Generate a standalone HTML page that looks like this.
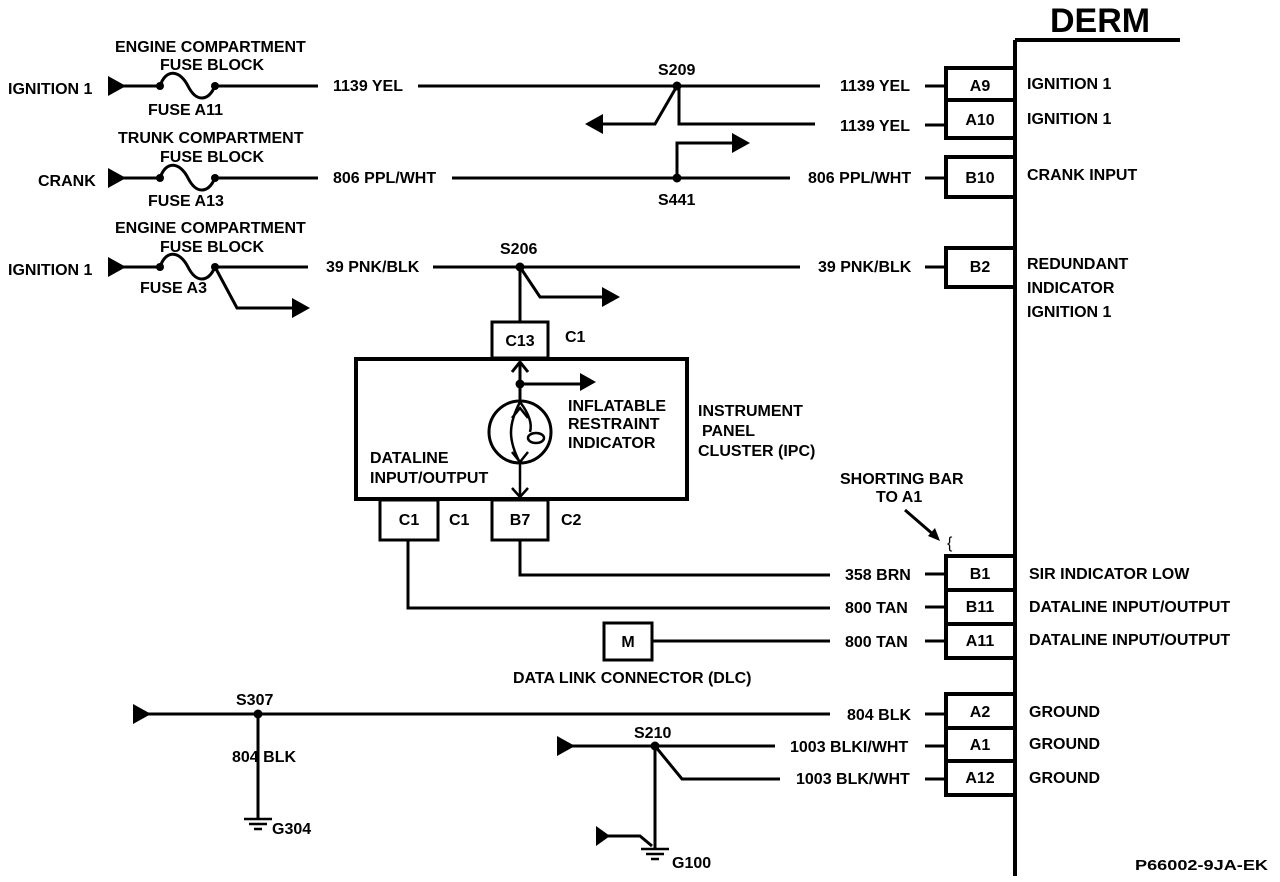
<!DOCTYPE html>
<html><head><meta charset="utf-8"><style>
html,body{margin:0;padding:0;background:#fff;}
svg{display:block}
text{font-family:"Liberation Sans",sans-serif;font-weight:bold;font-size:16px;fill:#000}
</style></head><body>
<svg width="1280" height="882" viewBox="0 0 1280 882" xmlns="http://www.w3.org/2000/svg">
<g stroke="#000" stroke-width="3" fill="none" stroke-linejoin="miter">
<path d="M1015 40 V876 M1015 40 H1180" stroke-width="4"/>
<path d="M1015 68 H946 V100 H1015 M946 100 V138 H1015" stroke-width="4"/>
<path d="M1015 157 H946 V197 H1015" stroke-width="4"/>
<path d="M1015 248 H946 V287 H1015" stroke-width="4"/>
<path d="M1015 556 H946 V658 H1015 M946 590 H1015 M946 624 H1015" stroke-width="4"/>
<path d="M1015 694 H946 V795 H1015 M946 728 H1015 M946 761 H1015" stroke-width="4"/>
<path d="M925 86 H946 M925 125 H946 M925 178 H946 M925 267 H946 M925 574 H946 M925 607 H946 M925 641 H946 M925 714 H946 M925 746 H946 M925 779 H946"/>

<path d="M120 86 H160 C166 68,180 70,188 86 S208 102,215 86 H318 M418 86 H820"/>
<path d="M677 86 L655 124 H600 M679 86 V124 H815"/>
<path d="M120 178 H160 C166 160,180 162,188 178 S208 194,215 178 H318 M452 178 H790"/>
<path d="M677 178 V143 H735"/>
<path d="M120 267 H160 C166 249,180 251,188 267 S208 283,215 267 H308 M433 267 H800"/>
<path d="M215 267 L237 308 H292"/>
<path d="M520 267 L540 297 H603 M520 267 V322"/>
<rect x="492" y="322" width="56" height="36"/>
<rect x="356" y="359" width="331" height="140" stroke-width="4"/>
<rect x="380" y="500" width="58" height="40"/>
<rect x="492" y="500" width="56" height="40"/>
<path d="M520 384 H580 M520 362 V384 M520 384 V402" />
<path d="M512 372 L520 362 L528 372" />
<circle cx="520" cy="432" r="31"/>
<path d="M520 402 C508 425,508 440,520 463 M520 402 C530 415,532 425,530 432" stroke-width="2.5"/>
<ellipse cx="536" cy="438" rx="8" ry="5" stroke-width="2.5"/>
<path d="M512 418 L520 408 L528 418 M512 452 L520 462 L528 452 M520 463 V497 M512 488 L520 497 L528 488" stroke-width="2.5"/>
<path d="M520 540 V575 H830 M408 540 V608 H830"/>
<rect x="604" y="623" width="48" height="37"/>
<path d="M652 641 H830"/>
<path d="M905 510 L935 536"/>
<path d="M145 714 H830 M258 714 V818"/>
<path d="M570 746 H775 M655 746 L682 779 H780 M655 746 V848 M605 836 H640 L652 846"/>
<path d="M244 819 H272 M249 824 H267 M254 829 H262" stroke-width="2.5"/>
<path d="M641 849 H669 M646 854 H664 M651 859 H659" stroke-width="2.5"/>
</g>
<g fill="#000" stroke="none">
<polygon points="108,76 126,86 108,96"/>
<polygon points="108,168 126,178 108,188"/>
<polygon points="108,257 126,267 108,277"/>
<polygon points="133,704 151,714 133,724"/>
<polygon points="557,736 575,746 557,756"/>
<polygon points="596,826 610,836 596,846"/>
<polygon points="585,124 603,114 603,134"/>
<polygon points="750,143 732,133 732,153"/>
<polygon points="310,308 292,298 292,318"/>
<polygon points="620,297 602,287 602,307"/>
<polygon points="596,382 580,373 580,391"/>
<polygon points="940,541 928,536 935,528"/>
<circle cx="160" cy="86" r="4"/><circle cx="215" cy="86" r="4"/>
<circle cx="160" cy="178" r="4"/><circle cx="215" cy="178" r="4"/>
<circle cx="160" cy="267" r="4"/><circle cx="215" cy="267" r="4"/>
<circle cx="677" cy="86" r="4.5"/><circle cx="677" cy="178" r="4.5"/>
<circle cx="520" cy="267" r="4.5"/><circle cx="520" cy="384" r="4.5"/>
<circle cx="258" cy="714" r="4.5"/><circle cx="655" cy="746" r="4.5"/>
</g>
<text x="1050" y="32" style="font-size:34px">DERM</text>
<text x="8" y="94">IGNITION 1</text>
<text x="115" y="52">ENGINE COMPARTMENT</text>
<text x="160" y="70">FUSE BLOCK</text>
<text x="148" y="115">FUSE A11</text>
<text x="333" y="91">1139 YEL</text>
<text x="658" y="75">S209</text>
<text x="840" y="91">1139 YEL</text>
<text x="840" y="131">1139 YEL</text>
<text x="38" y="186">CRANK</text>
<text x="118" y="143">TRUNK COMPARTMENT</text>
<text x="160" y="162">FUSE BLOCK</text>
<text x="148" y="206">FUSE A13</text>
<text x="333" y="183">806 PPL/WHT</text>
<text x="808" y="183">806 PPL/WHT</text>
<text x="658" y="205">S441</text>
<text x="8" y="275">IGNITION 1</text>
<text x="115" y="233">ENGINE COMPARTMENT</text>
<text x="160" y="252">FUSE BLOCK</text>
<text x="140" y="293">FUSE A3</text>
<text x="326" y="272">39 PNK/BLK</text>
<text x="500" y="254">S206</text>
<text x="818" y="272">39 PNK/BLK</text>
<text x="520" y="346" text-anchor="middle">C13</text>
<text x="565" y="342">C1</text>
<text x="568" y="411">INFLATABLE</text>
<text x="568" y="429">RESTRAINT</text>
<text x="568" y="448">INDICATOR</text>
<text x="370" y="463">DATALINE</text>
<text x="370" y="483">INPUT/OUTPUT</text>
<text x="698" y="416">INSTRUMENT</text>
<text x="702" y="436">PANEL</text>
<text x="698" y="456">CLUSTER (IPC)</text>
<text x="409" y="525" text-anchor="middle">C1</text>
<text x="449" y="525">C1</text>
<text x="520" y="525" text-anchor="middle">B7</text>
<text x="561" y="525">C2</text>
<text x="840" y="484">SHORTING BAR</text>
<text x="876" y="502">TO A1</text>
<text x="947" y="548" style="font-weight:normal">{</text>
<text x="845" y="580">358 BRN</text>
<text x="845" y="613">800 TAN</text>
<text x="845" y="647">800 TAN</text>
<text x="628" y="647" text-anchor="middle">M</text>
<text x="513" y="683">DATA LINK CONNECTOR (DLC)</text>
<text x="236" y="705">S307</text>
<text x="232" y="762">804 BLK</text>
<text x="272" y="834">G304</text>
<text x="847" y="720">804 BLK</text>
<text x="634" y="738">S210</text>
<text x="790" y="752">1003 BLKI/WHT</text>
<text x="796" y="784">1003 BLK/WHT</text>
<text x="672" y="868">G100</text>
<text x="980" y="91" text-anchor="middle">A9</text>
<text x="980" y="125" text-anchor="middle">A10</text>
<text x="980" y="183" text-anchor="middle">B10</text>
<text x="980" y="272" text-anchor="middle">B2</text>
<text x="980" y="579" text-anchor="middle">B1</text>
<text x="980" y="612" text-anchor="middle">B11</text>
<text x="980" y="646" text-anchor="middle">A11</text>
<text x="980" y="717" text-anchor="middle">A2</text>
<text x="980" y="750" text-anchor="middle">A1</text>
<text x="980" y="783" text-anchor="middle">A12</text>
<text x="1027" y="89">IGNITION 1</text>
<text x="1027" y="124">IGNITION 1</text>
<text x="1027" y="180">CRANK INPUT</text>
<text x="1027" y="269">REDUNDANT</text>
<text x="1027" y="293">INDICATOR</text>
<text x="1027" y="317">IGNITION 1</text>
<text x="1029" y="579">SIR INDICATOR LOW</text>
<text x="1029" y="612">DATALINE INPUT/OUTPUT</text>
<text x="1029" y="645">DATALINE INPUT/OUTPUT</text>
<text x="1029" y="717">GROUND</text>
<text x="1029" y="749">GROUND</text>
<text x="1029" y="783">GROUND</text>
<text x="1135" y="870" textLength="133" lengthAdjust="spacingAndGlyphs" style="font-size:15px">P66002-9JA-EK</text>
</svg>
</body></html>
